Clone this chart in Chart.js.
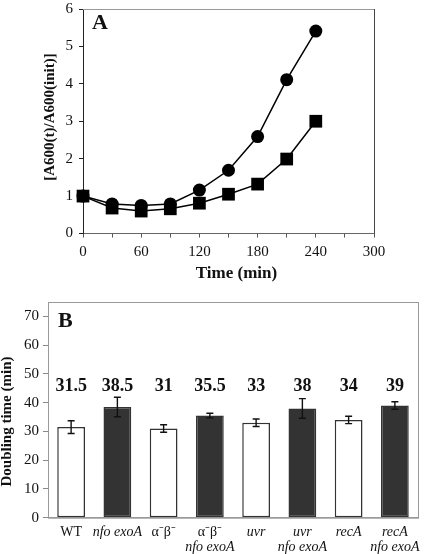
<!DOCTYPE html>
<html>
<head>
<meta charset="utf-8">
<script src="https://cdn.jsdelivr.net/npm/chart.js@4"></script>
<style>
  html, body { margin:0; padding:0; background:#fff; }
  body { width:425px; height:554px; position:relative; overflow:hidden; }
  #wa { position:absolute; left:0; top:0; width:425px; height:285px; }
  #wb { position:absolute; left:0; top:280px; width:425px; height:274px; }
</style>
</head>
<body>
<div id="wa"><canvas id="ca" width="425" height="285"></canvas></div>
<div id="wb"><canvas id="cb" width="425" height="274"></canvas></div>
<script>
// ---------- Panel A data ----------
const times = [0, 30, 60, 90, 120, 150, 180, 210, 240];
const circleSeries = [1.0, 0.79, 0.75, 0.79, 1.16, 1.69, 2.59, 4.11, 5.41];
const squareSeries = [1.0, 0.68, 0.60, 0.66, 0.81, 1.05, 1.32, 1.99, 3.00];
const xTickValuesA = [0, 60, 120, 180, 240, 300];

// ---------- Panel B data ----------
const strains = [["WT"], ["nfo exoA"], ["\u03b1\u207b\u03b2\u207b"], ["\u03b1\u207b\u03b2\u207b", "nfo exoA"],
                 ["uvr"], ["uvr", "nfo exoA"], ["recA"], ["recA", "nfo exoA"]];
const doublingTime = [31.5, 38.5, 31, 35.5, 33, 38, 34, 39];
const doublingErr = [2.2, 3.4, 1.3, 0.8, 1.3, 3.4, 1.3, 1.3];
const doublingText = ["31.5", "38.5", "31", "35.5", "33", "38", "34", "39"];
const yTickValuesB = [0, 10, 20, 30, 40, 50, 60, 70];

Chart.defaults.font.family = "'Liberation Serif', 'Times New Roman', serif";
Chart.defaults.color = '#111';
Chart.defaults.animation = false;

const SERIF = "'Liberation Serif', 'Times New Roman', serif";

// ---------- Panel A ----------
const panelAPlugin = {
  id: 'panelA',
  afterDraw(chart) {
    const ctx = chart.ctx, a = chart.chartArea;
    ctx.save();
    ctx.lineWidth = 1;
    ctx.strokeStyle = '#999';
    ctx.beginPath(); ctx.moveTo(a.left, a.top + 0.5); ctx.lineTo(a.right, a.top + 0.5); ctx.stroke();
    ctx.strokeStyle = '#444';
    ctx.beginPath(); ctx.moveTo(a.right + 0.5, a.top); ctx.lineTo(a.right + 0.5, a.bottom); ctx.stroke();
    ctx.fillStyle = '#111';
    ctx.font = "bold 22px " + SERIF;
    ctx.textAlign = 'left'; ctx.textBaseline = 'alphabetic';
    ctx.fillText('A', 92, 28.5);
    ctx.font = "bold 15px " + SERIF;
    ctx.save();
    ctx.translate(50, 117);
    ctx.rotate(-Math.PI / 2);
    ctx.textAlign = 'center'; ctx.textBaseline = 'middle';
    ctx.fillText('[A600(t)/A600(init)]', 0, 0);
    ctx.restore();
    ctx.font = "bold 17px " + SERIF;
    ctx.textAlign = 'center'; ctx.textBaseline = 'middle';
    ctx.fillText('Time (min)', 236.5, 274);
    ctx.restore();
  }
};

new Chart(document.getElementById('ca'), {
  type: 'line',
  data: {
    datasets: [
      {
        data: times.map((t, i) => ({ x: t, y: squareSeries[i] })),
        borderColor: '#000', backgroundColor: '#000', borderWidth: 1.5,
        pointStyle: 'rect', pointRadius: 9, pointBorderWidth: 0, tension: 0, clip: false
      },
      {
        data: times.map((t, i) => ({ x: t, y: circleSeries[i] })),
        borderColor: '#000', backgroundColor: '#000', borderWidth: 1.5,
        pointStyle: 'circle', pointRadius: 6.5, pointBorderWidth: 0, tension: 0, clip: false
      }
    ]
  },
  options: {
    responsive: false,
    layout: { padding: { left: 0, right: 51, top: 4, bottom: 0 } },
    plugins: { legend: { display: false }, tooltip: { enabled: false } },
    scales: {
      x: {
        type: 'linear', min: 0, max: 300,
        ticks: {
          stepSize: 30, autoSkip: false, maxRotation: 0, padding: 6,
          font: { size: 15 }, color: '#111',
          callback: v => xTickValuesA.includes(v) ? String(v) : ''
        },
        grid: { display: true, drawOnChartArea: false, drawTicks: true, tickLength: 4, color: '#555' },
        border: { display: true, color: '#666', width: 1 },
        afterFit(s) { s.height = 51.5; s.paddingLeft = 0; s.paddingRight = 0; }
      },
      y: {
        min: 0, max: 6,
        ticks: { stepSize: 1, padding: 6, font: { size: 15 }, color: '#111' },
        grid: { display: true, drawOnChartArea: false, drawTicks: true, tickLength: 4, color: '#222' },
        border: { display: true, color: '#222', width: 1 },
        afterFit(s) { s.width = 83; s.paddingTop = 0; s.paddingBottom = 0; }
      }
    }
  },
  plugins: [panelAPlugin]
});

// ---------- Panel B ----------
const panelBPlugin = {
  id: 'panelB',
  afterDatasetsDraw(chart) {
    const ctx = chart.ctx, a = chart.chartArea;
    const ys = chart.scales.y, xs = chart.scales.x;
    const meta = chart.getDatasetMeta(0);
    ctx.save();
    ctx.strokeStyle = '#999'; ctx.lineWidth = 1;
    ctx.strokeRect(a.left + 0.5, a.top + 0.5, a.right - a.left, a.bottom - a.top);
    ctx.strokeStyle = '#111'; ctx.lineWidth = 1.4;
    meta.data.forEach((bar, i) => {
      const x = bar.x;
      const yt = ys.getPixelForValue(doublingTime[i] + doublingErr[i]);
      const yb = ys.getPixelForValue(doublingTime[i] - doublingErr[i]);
      ctx.beginPath();
      ctx.moveTo(x, yt); ctx.lineTo(x, yb);
      ctx.moveTo(x - 3.5, yt); ctx.lineTo(x + 3.5, yt);
      ctx.moveTo(x - 3.5, yb); ctx.lineTo(x + 3.5, yb);
      ctx.stroke();
    });
    ctx.fillStyle = '#111';
    ctx.font = "bold 18px " + SERIF;
    ctx.textAlign = 'center'; ctx.textBaseline = 'alphabetic';
    const yLab = ys.getPixelForValue(44);
    meta.data.forEach((bar, i) => ctx.fillText(doublingText[i], bar.x, yLab));
    strains.forEach((lines, i) => {
      const x = xs.getPixelForValue(i);
      lines.forEach((ln, j) => {
        const italic = !/\u03b1|WT/.test(ln);
        ctx.font = (italic ? 'italic ' : '') + "14px " + SERIF;
        ctx.textBaseline = 'middle';
        ctx.fillText(ln, x, a.bottom + 14.5 + j * 14.7);
      });
    });
    ctx.font = "bold 22px " + SERIF;
    ctx.textAlign = 'left'; ctx.textBaseline = 'alphabetic';
    ctx.fillText('B', 58, 46.7);
    ctx.font = "bold 15px " + SERIF;
    ctx.save();
    ctx.translate(7, 141.5);
    ctx.rotate(-Math.PI / 2);
    ctx.textAlign = 'center'; ctx.textBaseline = 'middle';
    ctx.fillText('Doubling time (min)', 0, 0);
    ctx.restore();
    ctx.restore();
  }
};

new Chart(document.getElementById('cb'), {
  type: 'bar',
  data: {
    labels: strains.map(s => s.join(' ')),
    datasets: [{
      data: doublingTime,
      backgroundColor: ctx => (ctx.dataIndex % 2 ? '#333333' : '#ffffff'),
      borderColor: '#333', borderWidth: 1.5, borderSkipped: false,
      categoryPercentage: 1, barPercentage: 0.6
    }]
  },
  options: {
    responsive: false,
    layout: { padding: { left: 0, right: 7, top: 22, bottom: 0 } },
    plugins: { legend: { display: false }, tooltip: { enabled: false } },
    scales: {
      x: {
        ticks: { display: false },
        grid: { display: false, drawTicks: false },
        border: { display: true, color: '#999', width: 1 },
        afterFit(s) { s.height = 36.3; s.paddingLeft = 0; s.paddingRight = 0; }
      },
      y: {
        min: 0, max: 75,
        ticks: { padding: 4, font: { size: 15 }, color: '#111' },
        afterBuildTicks(s) { s.ticks = yTickValuesB.map(v => ({ value: v })); },
        grid: { display: true, drawOnChartArea: false, drawTicks: true, tickLength: 5, color: '#888' },
        border: { display: true, color: '#999', width: 1 },
        afterFit(s) { s.width = 48; s.paddingTop = 0; s.paddingBottom = 0; }
      }
    }
  },
  plugins: [panelBPlugin]
});
</script>
</body>
</html>
